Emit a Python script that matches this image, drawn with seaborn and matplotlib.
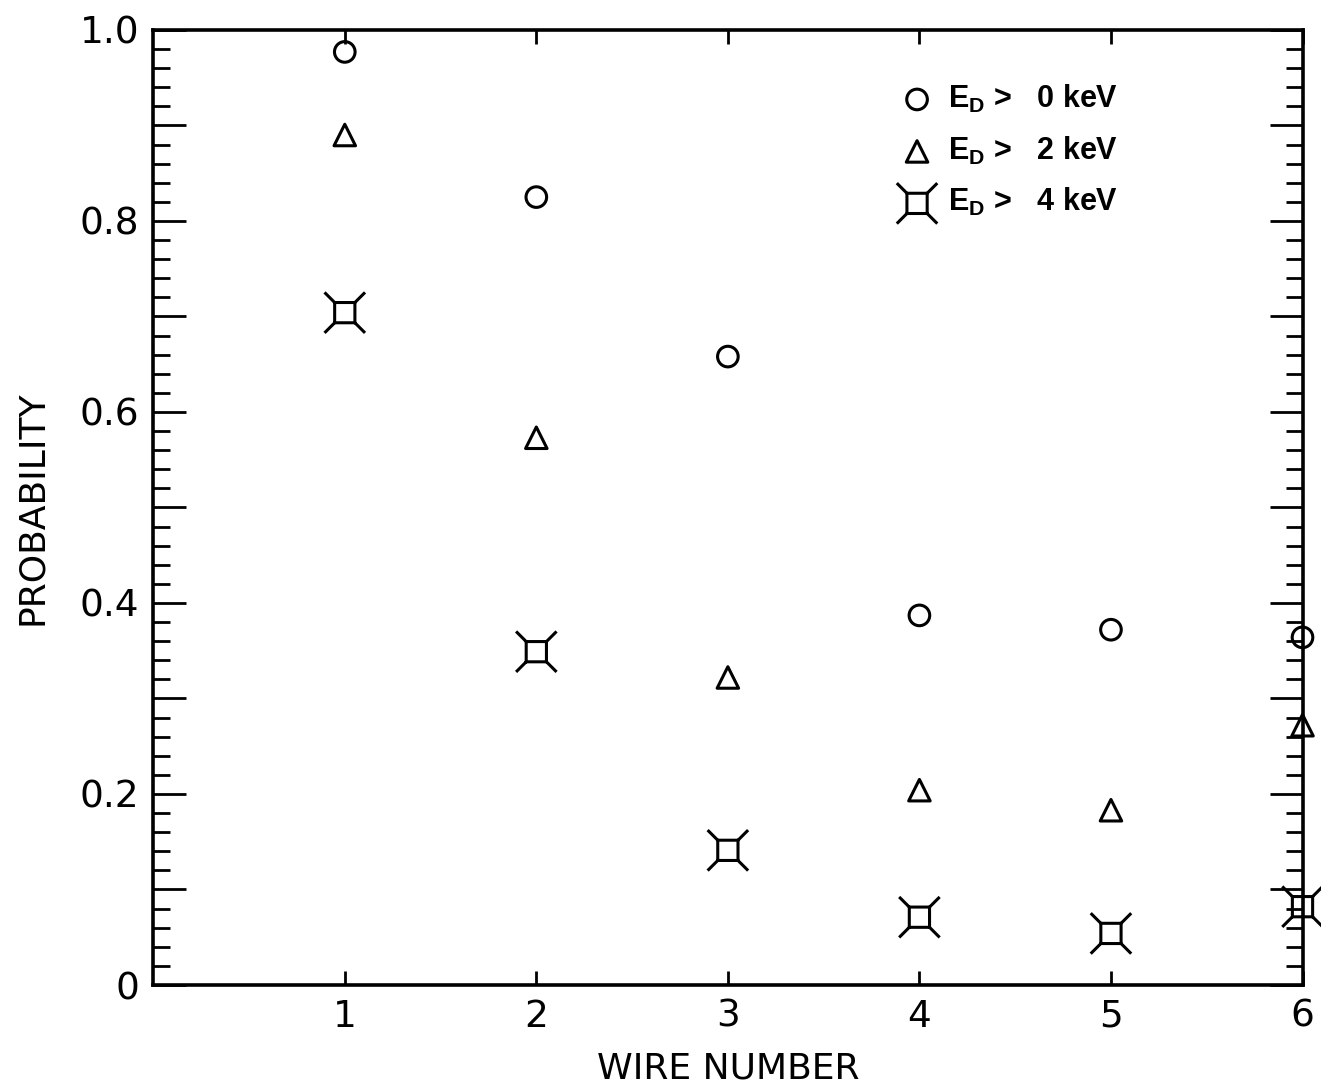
import matplotlib
matplotlib.use("Agg")
import matplotlib.pyplot as plt
import seaborn as sns
import numpy as np
import pandas as pd
from matplotlib.path import Path
from matplotlib.ticker import FixedLocator, FuncFormatter

wire = [1, 2, 3, 4, 5, 6]
p_e0 = [0.977, 0.825, 0.658, 0.387, 0.372, 0.364]
p_e2 = [0.890, 0.573, 0.322, 0.204, 0.183, 0.272]
p_e4 = [0.704, 0.349, 0.141, 0.071, 0.054, 0.082]
labels = [r"$\mathbf{E_D}$ >   0 keV", r"$\mathbf{E_D}$ >   2 keV", r"$\mathbf{E_D}$ >   4 keV"]

sns.set_theme(style="white")
plt.rcParams["font.family"] = ["DejaVu Sans"]
plt.rcParams["mathtext.fontset"] = "custom"
plt.rcParams["mathtext.bf"] = "Liberation Sans:bold"
for k in ["text.color", "axes.labelcolor", "xtick.color", "ytick.color"]:
    plt.rcParams[k] = "black"

# square with corner spikes
verts = [(-0.5, -0.5), (0.5, -0.5), (0.5, 0.5), (-0.5, 0.5), (-0.5, -0.5),
         (0.5, 0.5), (1, 1), (-0.5, 0.5), (-1, 1), (0.5, -0.5), (1, -1), (-0.5, -0.5), (-1, -1)]
codes = [Path.MOVETO, Path.LINETO, Path.LINETO, Path.LINETO, Path.CLOSEPOLY,
         Path.MOVETO, Path.LINETO, Path.MOVETO, Path.LINETO, Path.MOVETO, Path.LINETO, Path.MOVETO, Path.LINETO]
spike_sq = Path(verts, codes)

fig = plt.figure(figsize=(13.21, 10.89), dpi=100)
ax = fig.add_axes([0.116, 0.0955, 0.87, 0.877])

series = [(p_e0, "o", 220), (p_e2, "^", 240), (p_e4, spike_sq, 850)]
for (vals, mk, sz), lab in zip(series, labels):
    df = pd.DataFrame({"wire": wire, "p": vals})
    sns.scatterplot(data=df, x="wire", y="p", marker=mk, s=sz, facecolors="none",
                    edgecolor="black", linewidth=2.2, ax=ax, label=lab, clip_on=False, zorder=5)

ax.set_xlim(0, 6)
ax.set_ylim(0, 1.0)
for sp in ax.spines.values():
    sp.set_linewidth(2.6)
    sp.set_color("black")

ax.xaxis.set_major_locator(FixedLocator([1, 2, 3, 4, 5, 6]))
ax.yaxis.set_major_locator(FixedLocator(np.round(np.arange(0, 1.01, 0.1), 2)))
ax.yaxis.set_minor_locator(FixedLocator(np.round(np.arange(0, 1.01, 0.02), 2)))

def yfmt(v, pos):
    r = round(v * 10)
    if r % 2:
        return ""
    if r == 0:
        return "0"
    return f"{v:.1f}"
ax.yaxis.set_major_formatter(FuncFormatter(yfmt))

ax.tick_params(axis="x", which="major", direction="in", length=10, width=2, top=True, bottom=True,
               labelsize=27, pad=10)
ax.tick_params(axis="y", which="major", direction="in", length=24, width=2, left=True, right=True,
               labelsize=27, pad=10)
ax.tick_params(axis="y", which="minor", direction="in", length=12, width=2, left=True, right=True)

ax.set_xlabel("WIRE NUMBER", fontsize=26, labelpad=12)
ax.set_ylabel("PROBABILITY", fontsize=26, labelpad=22)

leg = ax.legend(loc="upper left", bbox_to_anchor=(0.646, 0.945), frameon=False,
                prop={"family": "Liberation Sans", "weight": "bold", "size": 22},
                handlelength=1.4, handletextpad=0.3, labelspacing=0.65,
                borderaxespad=0, borderpad=0)

fig.savefig("out.png", dpi=100)
